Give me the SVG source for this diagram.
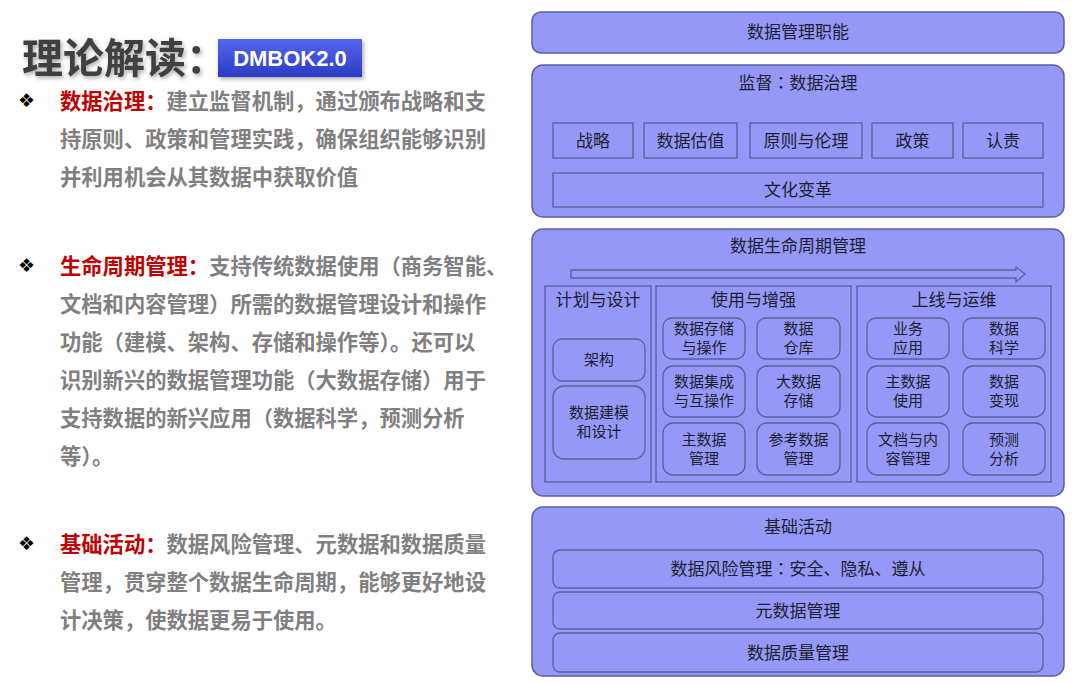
<svg xmlns="http://www.w3.org/2000/svg" width="1080" height="683" viewBox="0 0 1080 683">
<defs>
<style>
.bg{fill:#9598f6;stroke:#5b5f9c;stroke-width:1.5}
.sq{fill:#9598f6;stroke:#5b5f9c;stroke-width:1.3}
.t{font-family:"Noto Sans CJK SC","Noto Sans",sans-serif;font-size:17px;fill:#1e1e30;text-anchor:middle}
.tc{font-family:"Noto Sans CJK TC","Noto Sans CJK SC",sans-serif}
.s{font-family:"Noto Sans CJK SC","Noto Sans",sans-serif;font-size:15px;fill:#1e1e30;text-anchor:middle}
.lt{font-family:"Noto Sans CJK SC","Noto Sans",sans-serif;font-size:21.3px;font-weight:bold;fill:#808080}
.red{fill:#c00000}
.bul{font-family:"DejaVu Sans",sans-serif;font-size:19px;fill:#000}
</style>
<linearGradient id="badge" x1="0" y1="0" x2="0" y2="1">
<stop offset="0" stop-color="#5566ee"/>
<stop offset="1" stop-color="#2c3bc4"/>
</linearGradient>
<filter id="sh" x="-20%" y="-30%" width="140%" height="170%">
<feDropShadow dx="1.5" dy="2" stdDeviation="2" flood-color="#000" flood-opacity="0.35"/>
</filter>
</defs>
<rect width="1080" height="683" fill="#ffffff"/>

<g id="heading">
<text x="22" y="73" font-family="Noto Sans CJK SC,sans-serif" font-size="41" font-weight="bold" fill="#404040" filter="url(#sh)">理论解读：</text>
<rect x="218" y="39" width="144" height="38" fill="url(#badge)" filter="url(#sh)"/>
<text x="290" y="66" font-family="Liberation Sans,Arial,sans-serif" font-size="22" font-weight="bold" fill="#ffffff" text-anchor="middle">DMBOK2.0</text>
</g>

<g id="desc-governance">
<text class="bul" x="18" y="107">❖</text>
<text class="lt" x="60" y="109"><tspan class="red">数据治理：</tspan>建立监督机制，通过颁布战略和支</text>
<text class="lt" x="60" y="147">持原则、政策和管理实践，确保组织能够识别</text>
<text class="lt" x="60" y="185">并利用机会从其数据中获取价值</text>
</g>

<g id="desc-lifecycle">
<text class="bul" x="18" y="272">❖</text>
<text class="lt" x="60" y="274"><tspan class="red">生命周期管理：</tspan>支持传统数据使用（商务智能、</text>
<text class="lt" x="60" y="312">文档和内容管理）所需的数据管理设计和操作</text>
<text class="lt" x="60" y="350">功能（建模、架构、存储和操作等）。还可以</text>
<text class="lt" x="60" y="388">识别新兴的数据管理功能（大数据存储）用于</text>
<text class="lt" x="60" y="426">支持数据的新兴应用（数据科学，预测分析</text>
<text class="lt" x="60" y="464">等）。</text>
</g>

<g id="desc-foundation">
<text class="bul" x="18" y="550">❖</text>
<text class="lt" x="60" y="552"><tspan class="red">基础活动：</tspan>数据风险管理、元数据和数据质量</text>
<text class="lt" x="60" y="590">管理，贯穿整个数据生命周期，能够更好地设</text>
<text class="lt" x="60" y="628">计决策，使数据更易于使用。</text>
</g>

<g id="dm-functions">
<rect class="bg" x="532" y="12" width="532" height="41" rx="9"/>
<text class="t" x="798" y="38">数据管理职能</text>
</g>

<g id="governance">
<rect class="bg" x="532" y="65" width="532" height="152" rx="11"/>
<text class="t" x="798" y="89">监督<tspan class="tc">：</tspan>数据治理</text>
<g id="gov-strategy"><rect class="sq" x="553" y="123" width="80" height="35"/><text class="t" x="593" y="147">战略</text></g>
<g id="gov-valuation"><rect class="sq" x="644" y="123" width="93" height="35"/><text class="t" x="690.5" y="147">数据估值</text></g>
<g id="gov-principles"><rect class="sq" x="750" y="123" width="112" height="35"/><text class="t" x="806" y="147">原则与伦理</text></g>
<g id="gov-policy"><rect class="sq" x="872" y="123" width="81" height="35"/><text class="t" x="912.5" y="147">政策</text></g>
<g id="gov-accountability"><rect class="sq" x="963" y="123" width="80" height="35"/><text class="t" x="1003" y="147">认责</text></g>
<g id="gov-culture"><rect class="sq" x="553" y="173" width="490" height="34"/><text class="t" x="798" y="196">文化变革</text></g>
</g>

<g id="lifecycle">
<rect class="bg" x="532" y="229" width="532" height="267" rx="11"/>
<text class="t" x="798" y="252">数据生命周期管理</text>
<g id="connectors">
<polygon points="571,270 1016,270 1016,267 1025,274 1016,282 1016,278 571,278" fill="#9598f6" stroke="#5b5f9c" stroke-width="1.3"/>
</g>
<g id="col-plan">
<rect class="sq" x="545" y="286" width="106" height="196"/>
<text class="t" x="598" y="306">计划与设计</text>
<g id="n-arch"><rect class="sq" x="553" y="339" width="92" height="42" rx="9"/><text class="s" x="599" y="365">架构</text></g>
<g id="n-model"><rect class="sq" x="553" y="386" width="92" height="73" rx="11"/><text class="s" x="599" y="418">数据建模</text><text class="s" x="599" y="437">和设计</text></g>
</g>
<g id="col-use">
<rect class="sq" x="656" y="286" width="195" height="196"/>
<text class="t" x="753.5" y="306">使用与增强</text>
<g id="n-storage"><rect class="sq" x="663" y="318" width="82" height="41" rx="9"/><text class="s" x="704" y="334">数据存储</text><text class="s" x="704" y="353">与操作</text></g>
<g id="n-dw"><rect class="sq" x="757" y="318" width="83" height="41" rx="9"/><text class="s" x="798.5" y="334">数据</text><text class="s" x="798.5" y="353">仓库</text></g>
<g id="n-integ"><rect class="sq" x="663" y="366" width="82" height="51" rx="10"/><text class="s" x="704" y="387">数据集成</text><text class="s" x="704" y="406">与互操作</text></g>
<g id="n-bigdata"><rect class="sq" x="757" y="366" width="83" height="51" rx="10"/><text class="s" x="798.5" y="387">大数据</text><text class="s" x="798.5" y="406">存储</text></g>
<g id="n-mdm"><rect class="sq" x="663" y="423" width="82" height="52" rx="10"/><text class="s" x="704" y="445">主数据</text><text class="s" x="704" y="464">管理</text></g>
<g id="n-ref"><rect class="sq" x="757" y="423" width="83" height="52" rx="10"/><text class="s" x="798.5" y="445">参考数据</text><text class="s" x="798.5" y="464">管理</text></g>
</g>
<g id="col-ops">
<rect class="sq" x="857" y="286" width="194" height="196"/>
<text class="t" x="954" y="306">上线与运维</text>
<g id="n-bizapp"><rect class="sq" x="867" y="318" width="82" height="41" rx="9"/><text class="s" x="908" y="334">业务</text><text class="s" x="908" y="353">应用</text></g>
<g id="n-ds"><rect class="sq" x="963" y="318" width="82" height="41" rx="9"/><text class="s" x="1004" y="334">数据</text><text class="s" x="1004" y="353">科学</text></g>
<g id="n-mdu"><rect class="sq" x="867" y="366" width="82" height="51" rx="10"/><text class="s" x="908" y="387">主数据</text><text class="s" x="908" y="406">使用</text></g>
<g id="n-monet"><rect class="sq" x="963" y="366" width="82" height="51" rx="10"/><text class="s" x="1004" y="387">数据</text><text class="s" x="1004" y="406">变现</text></g>
<g id="n-doc"><rect class="sq" x="867" y="423" width="82" height="52" rx="10"/><text class="s" x="908" y="445">文档与内</text><text class="s" x="908" y="464">容管理</text></g>
<g id="n-pred"><rect class="sq" x="963" y="423" width="82" height="52" rx="10"/><text class="s" x="1004" y="445">预测</text><text class="s" x="1004" y="464">分析</text></g>
</g>
</g>

<g id="foundation">
<rect class="bg" x="532" y="507" width="532" height="169" rx="11"/>
<text class="t" x="798" y="533">基础活动</text>
<g id="f-risk"><rect class="sq" x="553" y="550" width="490" height="38" rx="7"/><text class="t" x="798" y="575">数据风险管理<tspan class="tc">：</tspan>安全、隐私、遵从</text></g>
<g id="f-meta"><rect class="sq" x="553" y="592" width="490" height="37" rx="7"/><text class="t" x="798" y="617">元数据管理</text></g>
<g id="f-quality"><rect class="sq" x="553" y="633" width="490" height="39" rx="7"/><text class="t" x="798" y="659">数据质量管理</text></g>
</g>
</svg>
